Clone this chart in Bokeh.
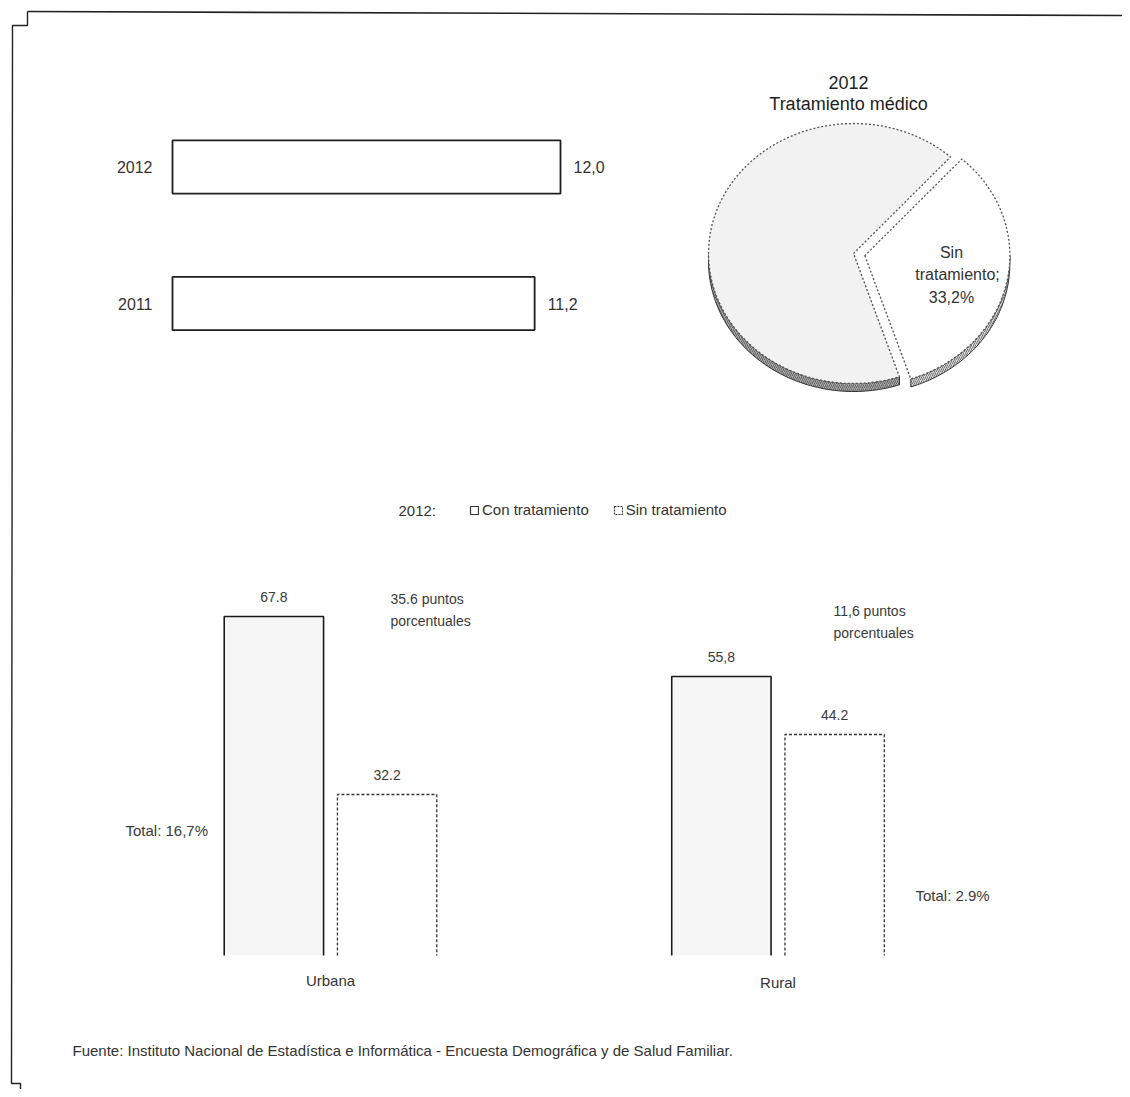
import numpy as np
from bokeh.plotting import figure
from bokeh.models import Range1d, Legend, LegendItem
from bokeh.core.properties import value
from bokeh.embed import file_html
from bokeh.resources import INLINE

# ---------------- data ----------------
years = ["2012", "2011"]
prevalence = [12.0, 11.2]
prevalence_labels = ["12,0", "11,2"]

pie_categories = ["Con tratamiento", "Sin tratamiento"]
pie_values = [66.8, 33.2]
pie_label = ["Sin", "tratamiento;", "33,2%"]
pie_title = ["2012", "Tratamiento médico"]

areas = ["Urbana", "Rural"]
con_trat = [67.8, 55.8]
sin_trat = [32.2, 44.2]
con_labels = ["67.8", "55,8"]
sin_labels = ["32.2", "44.2"]
gap_line1 = ["35.6 puntos", "11,6 puntos"]
gap_line2 = ["porcentuales", "porcentuales"]
total_notes = ["Total: 16,7%", "Total: 2.9%"]

legend_year = "2012:"
source_note = ("Fuente: Instituto Nacional de Estadística e Informática - "
               "Encuesta Demográfica y de Salud Familiar.")

# ---------------- canvas ----------------
W, H = 1122, 1089
FONT_NAME = "Liberation Sans"
FONT = value(FONT_NAME)
TXT = "#333333"


def lin_range(v0, p0, v1, p1, lo, hi):
    k = (v1 - v0) / (p1 - p0)
    return Range1d(start=v0 + (lo - p0) * k, end=v0 + (hi - p0) * k)


p = figure(width=W, height=H, x_range=Range1d(0, W), y_range=Range1d(H, 0),
           output_backend="svg", toolbar_location=None,
           x_axis_location=None, y_axis_location=None,
           min_border=0, min_border_left=0, min_border_right=0,
           min_border_top=0, min_border_bottom=0)
p.grid.visible = False
p.outline_line_color = None
p.background_fill_color = "white"
p.border_fill_color = "white"

p.extra_x_ranges = {
    "top_x": lin_range(0, 172, 12.0, 560, 0, W),
    "bar_x": lin_range(0, 330, 1, 777.5, 0, W),
    "pie_x": lin_range(0, 853, 1, 853 + 145, 0, W),
}
p.extra_y_ranges = {
    "top_y": lin_range(0, 166.5, 1, 303, H, 0),
    "bar_y": lin_range(0, 955, 67.8, 616, H, 0),
    "pie_y": lin_range(0, 253, 1, 253 - 130, H, 0),
}

# ---------------- page border (scan frame) ----------------
p.line(x=[27, W], y=[11, 15], line_color="#222", line_width=1.6)
p.line(x=[27, 27, 12, 11, 20, 20], y=[11, 25, 25, 1083, 1083, H],
       line_color="#222", line_width=1.4)

# ---------------- top-left: horizontal bars ----------------
idx_top = list(range(len(years)))
p.hbar(y=idx_top, left=0, right=prevalence, height=0.39,
       x_range_name="top_x", y_range_name="top_y",
       fill_color="white", line_color="#1e1e1e", line_width=1.8)
p.text(x=prevalence, y=idx_top, text=prevalence_labels,
       x_range_name="top_x", y_range_name="top_y",
       x_offset=13, text_baseline="middle", text_align="left",
       text_font=FONT, text_font_size="16px", text_color=TXT)
p.text(x=[0] * len(years), y=idx_top, text=years,
       x_range_name="top_x", y_range_name="top_y",
       x_offset=-20, text_baseline="middle", text_align="right",
       text_font=FONT, text_font_size="16px", text_color=TXT)

# ---------------- top-right: 3-D style pie (elliptical) ----------------
start_deg = 48.0
frac = np.array(pie_values) / np.sum(pie_values)
ends = np.deg2rad(start_deg) + np.cumsum(frac) * 2 * np.pi
starts = np.concatenate([[np.deg2rad(start_deg)], ends[:-1]])
mids = (starts + ends) / 2
explode = np.array([0.0, 0.08])
cx = explode * np.cos(mids)
cy = explode * np.sin(mids)
depth = 8 / 130

slice_xs, slice_ys, rim_xs, rim_ys = [], [], [], []
for a0, a1, ox, oy in zip(starts, ends, cx, cy):
    t = np.linspace(a0, a1, 120)
    slice_xs.append(list(np.concatenate([[ox], ox + np.cos(t), [ox]])))
    slice_ys.append(list(np.concatenate([[oy], oy + np.sin(t), [oy]])))
    lo, hi = max(a0, np.pi), min(a1, 2 * np.pi)
    tr = np.linspace(lo, hi, 80)
    rim_xs.append(list(np.concatenate([ox + np.cos(tr), ox + np.cos(tr[::-1])])))
    rim_ys.append(list(np.concatenate([oy + np.sin(tr), oy + np.sin(tr[::-1]) - depth])))

p.patches(xs=rim_xs, ys=rim_ys, x_range_name="pie_x", y_range_name="pie_y",
          fill_color=["#a9a9a9", "#d6d6d6"], hatch_pattern="/",
          hatch_color="#2e2e2e", hatch_scale=4, hatch_alpha=0.55,
          line_color="#333", line_width=1)
p.patches(xs=slice_xs, ys=slice_ys, x_range_name="pie_x", y_range_name="pie_y",
          fill_color=["#f2f2f2", "white"], line_color="#555",
          line_dash="2 2", line_width=1.3)
p.text(x=[951, 957, 951], y=[252, 274, 297], text=pie_label,
       text_align="center", text_baseline="middle",
       text_font=FONT, text_font_size="16px", text_color=TXT)
p.text(x=[848, 848], y=[82, 103], text=pie_title,
       text_align="center", text_baseline="middle",
       text_font=FONT, text_font_size="18px", text_color="#1e1e1e")

# ---------------- legend ----------------
p.text(x=[398], y=[510], text=[legend_year], text_baseline="middle",
       text_font=FONT, text_font_size="15px", text_color=TXT)
leg_con = p.vbar(x=[-50], top=[-100], bottom=[-101], width=1, fill_color="white",
                 x_range_name="bar_x", y_range_name="bar_y",
                 line_color="#333", line_width=1.2)
leg_sin = p.vbar(x=[-50], top=[-100], bottom=[-101], width=1, fill_color="white",
                 x_range_name="bar_x", y_range_name="bar_y",
                 line_color="#333", line_width=1.2, line_dash="2 1")
legend = Legend(items=[LegendItem(label=pie_categories[0], renderers=[leg_con]),
                       LegendItem(label=pie_categories[1], renderers=[leg_sin])],
                orientation="horizontal", location=(469, 571),
                glyph_width=10, glyph_height=10, label_standoff=3,
                spacing=24, padding=0, margin=0, label_height=16,
                label_text_font=FONT_NAME, label_text_font_size="15px",
                label_text_color=TXT, border_line_color=None,
                background_fill_alpha=0)
p.add_layout(legend, "center")

# ---------------- bottom: grouped bars ----------------
idx_bar = np.arange(len(areas))
off, bw = 0.1265, 0.222
x_con = idx_bar - off
x_sin = idx_bar + off
p.vbar(x=x_con, top=con_trat, bottom=0, width=bw,
       x_range_name="bar_x", y_range_name="bar_y",
       fill_color="#f6f6f6", line_alpha=0)
p.vbar(x=x_sin, top=sin_trat, bottom=0, width=bw,
       x_range_name="bar_x", y_range_name="bar_y",
       fill_color="white", line_alpha=0)
p.multi_line(xs=[[x - bw / 2, x - bw / 2, x + bw / 2, x + bw / 2] for x in x_con],
             ys=[[0, v, v, 0] for v in con_trat],
             x_range_name="bar_x", y_range_name="bar_y",
             line_color="#1a1a1a", line_width=1.6)
p.multi_line(xs=[[x - bw / 2, x - bw / 2, x + bw / 2, x + bw / 2] for x in x_sin],
             ys=[[0, v, v, 0] for v in sin_trat],
             x_range_name="bar_x", y_range_name="bar_y",
             line_color="#333", line_width=1.3, line_dash="3 2")
p.text(x=x_con, y=con_trat, text=con_labels,
       x_range_name="bar_x", y_range_name="bar_y",
       y_offset=-15, text_align="center", text_baseline="bottom",
       text_font=FONT, text_font_size="14px", text_color="#3a3a3a")
p.text(x=x_sin, y=sin_trat, text=sin_labels,
       x_range_name="bar_x", y_range_name="bar_y",
       y_offset=-15, text_align="center", text_baseline="bottom",
       text_font=FONT, text_font_size="14px", text_color="#3a3a3a")
p.text(x=idx_bar, y=[0, 0], text=areas,
       x_range_name="bar_x", y_range_name="bar_y",
       y_offset=[16, 18], text_align="center", text_baseline="top",
       text_font=FONT, text_font_size="15px", text_color=TXT)

# annotations
p.text(x=[390, 833], y=[598, 610], text=gap_line1, text_baseline="middle",
       text_font=FONT, text_font_size="14px", text_color="#3a3a3a")
p.text(x=[390, 833], y=[620, 632], text=gap_line2, text_baseline="middle",
       text_font=FONT, text_font_size="14px", text_color="#3a3a3a")
p.text(x=[125, 915], y=[830, 895], text=total_notes, text_baseline="middle",
       text_font=FONT, text_font_size="15px", text_color="#3a3a3a")

# source
p.text(x=[72], y=[1050], text=[source_note], text_baseline="middle",
       text_font=FONT, text_font_size="15px", text_color=TXT)

open("out.html", "w").write(file_html(p, INLINE))
